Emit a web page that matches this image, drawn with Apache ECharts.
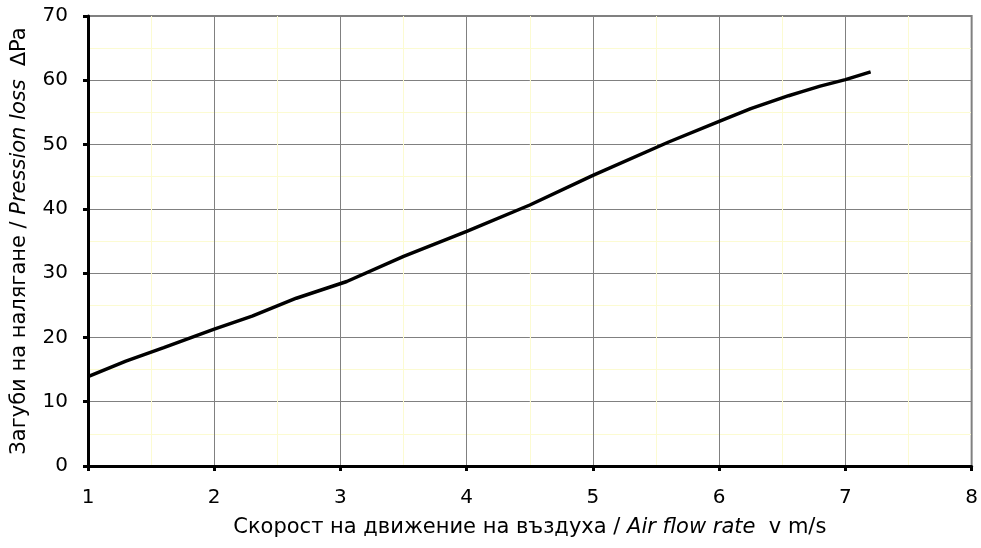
<!DOCTYPE html>
<html>
<head>
<meta charset="utf-8">
<script src="https://cdn.jsdelivr.net/npm/echarts@6/dist/echarts.min.js"></script>
<style>
html,body{margin:0;padding:0;background:#fff;}
#chart{width:981px;height:548px;}
</style>
</head>
<body>
<div id="chart"></div>
<script>
// Air flow rate v (m/s)
var flowRate = [1.0, 1.3, 1.6, 2.0, 2.3, 2.65, 3.05, 3.5, 4.0, 4.5, 5.0, 5.6, 6.0, 6.25, 6.55, 6.65, 6.8, 7.0, 7.2];
// Pressure loss ΔPa
var pressureLoss = [13.9, 16.3, 18.4, 21.3, 23.3, 26.1, 28.7, 32.6, 36.5, 40.6, 45.2, 50.4, 53.6, 55.6, 57.6, 58.2, 59.1, 60.1, 61.3];

var xMin = 1, xMax = 8, xStep = 1;
var yMin = 0, yMax = 70, yStep = 10;

var seriesData = flowRate.map(function (v, i) { return [v, pressureLoss[i]]; });

var font = 'DejaVu Sans';
var chart = echarts.init(document.getElementById('chart'), null, {renderer: 'canvas'});
chart.setOption({
  animation: false,
  backgroundColor: '#ffffff',
  grid: {left: 88, right: 9, top: 16, bottom: 82, show: true, borderColor: '#808080', borderWidth: 2, backgroundColor: 'transparent'},
  xAxis: {
    type: 'value', min: xMin, max: xMax, interval: xStep,
    name: '{n|Скорост на движение на въздуха / }{i|Air flow rate}{n|  v m/s}',
    nameLocation: 'middle', nameGap: 51,
    nameTextStyle: {rich: {
      n: {fontFamily: font, fontSize: 21, color: '#000'},
      i: {fontFamily: font, fontSize: 21, fontStyle: 'italic', color: '#000'}
    }},
    axisLine: {show: true, onZero: false, lineStyle: {color: '#000', width: 3}},
    axisTick: {show: true, length: 5, lineStyle: {color: '#000', width: 3}},
    axisLabel: {fontFamily: font, fontSize: 20, color: '#000', margin: 22},
    splitLine: {show: true, lineStyle: {color: '#808080', width: 1}},
    minorTick: {show: false, splitNumber: 2},
    minorSplitLine: {show: true, lineStyle: {color: '#fcfbd2', width: 1}}
  },
  yAxis: {
    type: 'value', min: yMin, max: yMax, interval: yStep,
    name: '{n|Загуби на налягане / }{i|Pression loss}{n|  ∆Pa}',
    nameLocation: 'middle', nameGap: 58,
    nameTextStyle: {rich: {
      n: {fontFamily: font, fontSize: 21, color: '#000'},
      i: {fontFamily: font, fontSize: 21, fontStyle: 'italic', color: '#000'}
    }},
    axisLine: {show: true, onZero: false, lineStyle: {color: '#000', width: 3}},
    axisTick: {show: true, length: 5, lineStyle: {color: '#000', width: 3}},
    axisLabel: {fontFamily: font, fontSize: 20, color: '#000', margin: 20},
    splitLine: {show: true, lineStyle: {color: '#808080', width: 1}},
    minorTick: {show: false, splitNumber: 2},
    minorSplitLine: {show: true, lineStyle: {color: '#fcfbd2', width: 1}}
  },
  series: [{
    type: 'line',
    data: seriesData,
    showSymbol: false,
    symbol: 'none',
    lineStyle: {color: '#000', width: 3.5},
    z: 5
  }]
});
</script>
</body>
</html>
